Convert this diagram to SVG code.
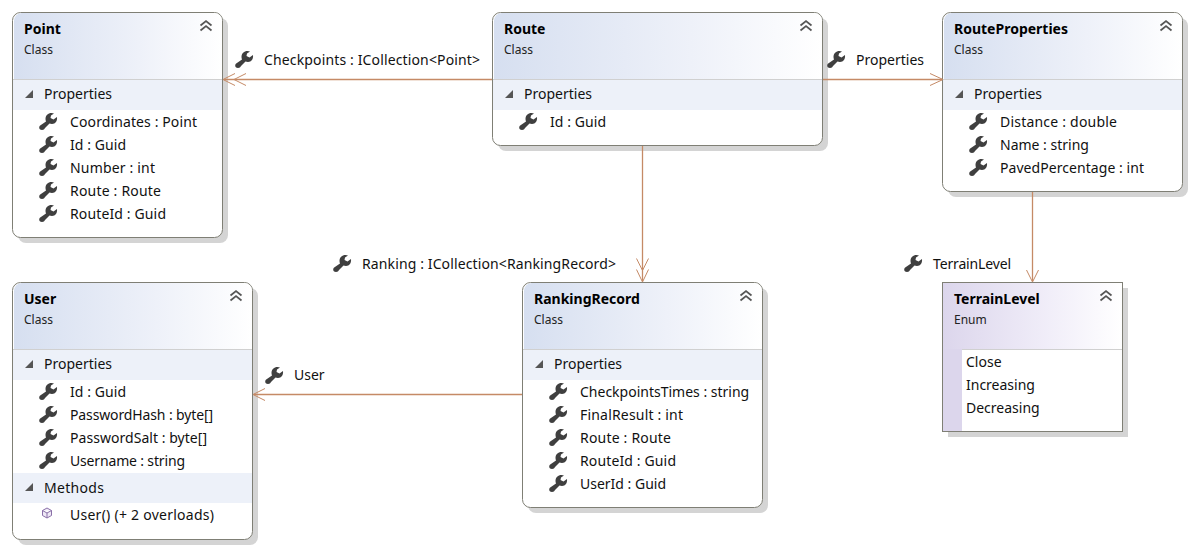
<svg xmlns="http://www.w3.org/2000/svg" width="1194" height="549" viewBox="0 0 1194 549">
<style>
text{font-family:"Noto Sans","Open Sans","Liberation Sans",sans-serif;font-size:14px;fill:#111}
.t{font-weight:700;fill:#000}
.s{font-size:12px;fill:#222}
.b{fill:#fff;stroke:#7f7f75;stroke-width:1}
.sh{fill:#d4d4d4}
.band{fill:#edf1f9}
.sep{stroke:#d0d0d0;stroke-width:1}
.c{fill:none;stroke:#c58a66;stroke-width:1.3}
.a{fill:none;stroke:#c58a66;stroke-width:1}
</style>
<defs>
<linearGradient id="hc"><stop offset="0" stop-color="#d6dff0"/><stop offset="0.6" stop-color="#eef1f9"/><stop offset="1" stop-color="#fff"/></linearGradient>
<linearGradient id="he"><stop offset="0" stop-color="#dcd6ec"/><stop offset="0.6" stop-color="#f1eef9"/><stop offset="1" stop-color="#fff"/></linearGradient>
<path id="w" d="M12.500 0C9 0 6.500 2.500 6.500 6C6.500 7 6.700 7.800 7 8.500L1.200 12.500C-.5 14 0 17 3 17C4.500 17 5.500 16 6 15L10.500 10.500C11 10.800 12 11 13 11C16.500 11 18.500 8 18 4L14.500 6.500L11.500 5L12 2.500L15 .5C14.300 .2 13.400 0 12.500 0z" fill="#3f3f3f"/>
<g id="col"><path d="M-5.500 -1.500L0 -6L5.500 -1.500M-5.500 3.500L0 -1L5.500 3.500" fill="none" stroke="#555" stroke-width="1.700"/></g>
<path id="tri" d="M0 0L8 0L8 -8z" fill="#555"/>
</defs>

<g id="Point">
<rect class="sh" x="18" y="18" width="210" height="225" rx="8"/>
<rect class="b" x="12.500" y="12.500" width="210" height="225" rx="8"/>
<path d="M14 79V21a8 8 0 0 1 8-8H214a8 8 0 0 1 8 8V79z" fill="url(#hc)"/>
<path class="sep" d="M13 79.500H222"/>
<rect class="band" x="13" y="80" width="209" height="30"/>
<text class="t" x="24" y="34">Point</text><text class="s" x="24" y="54">Class</text>
<use href="#col" x="206" y="27"/>
<use href="#tri" x="25" y="98"/>
<text x="44" y="99">Properties</text>
<use href="#w" x="39" y="113"/><text x="70" y="127" textLength="127">Coordinates : Point</text>
<use href="#w" x="39" y="136"/><text x="70" y="150" textLength="56">Id : Guid</text>
<use href="#w" x="39" y="159"/><text x="70" y="173" textLength="85">Number : int</text>
<use href="#w" x="39" y="182"/><text x="70" y="196" textLength="91">Route : Route</text>
<use href="#w" x="39" y="205"/><text x="70" y="219" textLength="96">RouteId : Guid</text>
</g>

<g id="Route">
<rect class="sh" x="498" y="18" width="330" height="133" rx="8"/>
<rect class="b" x="492.500" y="12.500" width="330" height="133" rx="8"/>
<path d="M494 79V21a8 8 0 0 1 8-8H814a8 8 0 0 1 8 8V79z" fill="url(#hc)"/>
<path class="sep" d="M493 79.500H822"/>
<rect class="band" x="493" y="80" width="329" height="30"/>
<text class="t" x="504" y="34">Route</text><text class="s" x="504" y="54">Class</text>
<use href="#col" x="806" y="27"/>
<use href="#tri" x="505" y="98"/>
<text x="524" y="99">Properties</text>
<use href="#w" x="519" y="113"/><text x="550" y="127" textLength="56">Id : Guid</text>
</g>

<g id="RouteProperties">
<rect class="sh" x="948" y="18" width="240" height="179" rx="8"/>
<rect class="b" x="942.500" y="12.500" width="240" height="179" rx="8"/>
<path d="M944 79V21a8 8 0 0 1 8-8H1174a8 8 0 0 1 8 8V79z" fill="url(#hc)"/>
<path class="sep" d="M943 79.500H1182"/>
<rect class="band" x="943" y="80" width="239" height="30"/>
<text class="t" x="954" y="34">RouteProperties</text><text class="s" x="954" y="54">Class</text>
<use href="#col" x="1166" y="27"/>
<use href="#tri" x="955" y="98"/>
<text x="974" y="99">Properties</text>
<use href="#w" x="969" y="113"/><text x="1000" y="127" textLength="117">Distance : double</text>
<use href="#w" x="969" y="136"/><text x="1000" y="150">Name : string</text>
<use href="#w" x="969" y="159"/><text x="1000" y="173" textLength="144">PavedPercentage : int</text>
</g>

<g id="User">
<rect class="sh" x="18" y="288" width="240" height="257" rx="8"/>
<rect class="b" x="12.500" y="282.500" width="240" height="257" rx="8"/>
<path d="M14 349V291a8 8 0 0 1 8-8H244a8 8 0 0 1 8 8V349z" fill="url(#hc)"/>
<path class="sep" d="M13 349.500H252"/>
<rect class="band" x="13" y="350" width="239" height="30"/>
<rect class="band" x="13" y="473" width="239" height="30"/>
<text class="t" x="24" y="304">User</text><text class="s" x="24" y="324">Class</text>
<use href="#col" x="236" y="297"/>
<use href="#tri" x="25" y="368"/>
<text x="44" y="369">Properties</text>
<use href="#w" x="39" y="383"/><text x="70" y="397" textLength="56">Id : Guid</text>
<use href="#w" x="39" y="406"/><text x="70" y="420" textLength="143">PasswordHash : byte[]</text>
<use href="#w" x="39" y="429"/><text x="70" y="443" textLength="137">PasswordSalt : byte[]</text>
<use href="#w" x="39" y="452"/><text x="70" y="466" textLength="115">Username : string</text>
<use href="#tri" x="25" y="491"/>
<text x="44" y="493" textLength="60">Methods</text>
<path d="M47 508l4.500 2.500v5L47 518l-4.500-2.500v-5zM42.500 510.500l4.500 2.500 4.500-2.500M47 513v5" fill="#efe9f6" stroke="#8a70a8" stroke-width="1"/>
<text x="70" y="520" textLength="144">User() (+ 2 overloads)</text>
</g>

<g id="RankingRecord">
<rect class="sh" x="528" y="288" width="240" height="225" rx="8"/>
<rect class="b" x="522.500" y="282.500" width="240" height="225" rx="8"/>
<path d="M524 349V291a8 8 0 0 1 8-8H754a8 8 0 0 1 8 8V349z" fill="url(#hc)"/>
<path class="sep" d="M523 349.500H762"/>
<rect class="band" x="523" y="350" width="239" height="30"/>
<text class="t" x="534" y="304">RankingRecord</text><text class="s" x="534" y="324">Class</text>
<use href="#col" x="746" y="297"/>
<use href="#tri" x="535" y="368"/>
<text x="554" y="369">Properties</text>
<use href="#w" x="549" y="383"/><text x="580" y="397">CheckpointsTimes : string</text>
<use href="#w" x="549" y="406"/><text x="580" y="420" textLength="103">FinalResult : int</text>
<use href="#w" x="549" y="429"/><text x="580" y="443" textLength="91">Route : Route</text>
<use href="#w" x="549" y="452"/><text x="580" y="466" textLength="96">RouteId : Guid</text>
<use href="#w" x="549" y="475"/><text x="580" y="489">UserId : Guid</text>
</g>

<g id="TerrainLevel">
<rect class="sh" x="948" y="288" width="180" height="149"/>
<rect class="b" x="942.500" y="282.500" width="180" height="149"/>
<rect x="943" y="283" width="179" height="66" fill="url(#he)"/>
<rect x="943" y="349" width="19" height="82" fill="#dcd6ec"/>
<path class="sep" d="M962 349.500H1122"/>
<text class="t" x="954" y="304">TerrainLevel</text><text class="s" x="954" y="324">Enum</text>
<use href="#col" x="1106" y="297"/>
<text x="966" y="367">Close</text>
<text x="966" y="390">Increasing</text>
<text x="966" y="413">Decreasing</text>
</g>

<g id="connectors">
<path class="c" d="M492 79.500H224"/>
<path class="a" d="M235 73.500L223 79.500L235 85.500M246 73.500L234 79.500L246 85.500"/>
<path class="c" d="M823 79.500H942"/>
<path class="a" d="M930 73.500L943 79.500L930 85.500"/>
<path class="c" d="M642.500 146V281"/>
<path class="a" d="M636.500 258.500L642.500 270.500L648.500 258.500M636.500 269.500L642.500 282L648.500 269.500"/>
<path class="c" d="M1032.500 192V281"/>
<path class="a" d="M1026.500 270L1032.500 282L1038.500 270"/>
<path class="c" d="M522 394.500H254"/>
<path class="a" d="M265 388.500L253 394.500L265 400.500"/>
<use href="#w" x="235" y="51"/><text x="264" y="65" textLength="216">Checkpoints : ICollection&lt;Point&gt;</text>
<use href="#w" x="827" y="51"/><text x="856" y="65">Properties</text>
<use href="#w" x="333" y="255"/><text x="362" y="269" textLength="254">Ranking : ICollection&lt;RankingRecord&gt;</text>
<use href="#w" x="904" y="255"/><text x="933" y="269" textLength="78">TerrainLevel</text>
<use href="#w" x="265" y="367"/><text x="294" y="380">User</text>
</g>
</svg>
